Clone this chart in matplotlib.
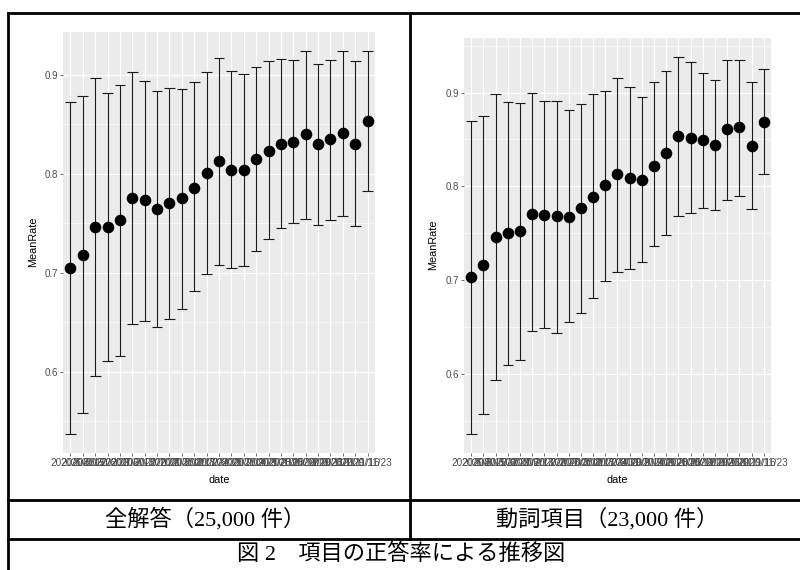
import matplotlib
matplotlib.use("Agg")
import matplotlib.pyplot as plt
from matplotlib.lines import Line2D
import numpy as np

# ---------------- data ----------------
dates = [
    "2020/6/8", "2020/6/15", "2020/6/22", "2020/6/29", "2020/7/6",
    "2020/7/13", "2020/7/20", "2020/7/27", "2020/8/3", "2020/8/10",
    "2020/8/17", "2020/8/24", "2020/8/31", "2020/9/7", "2020/9/14",
    "2020/9/21", "2020/9/28", "2020/10/5", "2020/10/12", "2020/10/19",
    "2020/10/26", "2020/11/2", "2020/11/9", "2020/11/16", "2020/11/23",
]

all_mean = [0.705, 0.718, 0.746, 0.746, 0.753, 0.775, 0.773, 0.764, 0.770, 0.775,
            0.786, 0.801, 0.813, 0.804, 0.804, 0.815, 0.823, 0.830, 0.832, 0.840,
            0.830, 0.835, 0.841, 0.830, 0.853]
all_upper = [0.873, 0.879, 0.897, 0.882, 0.890, 0.903, 0.894, 0.884, 0.887, 0.886,
             0.893, 0.903, 0.917, 0.904, 0.901, 0.908, 0.914, 0.916, 0.915, 0.924,
             0.911, 0.915, 0.924, 0.914, 0.924]
all_lower = [0.537, 0.558, 0.596, 0.611, 0.616, 0.648, 0.651, 0.645, 0.653, 0.663,
             0.681, 0.699, 0.708, 0.705, 0.707, 0.722, 0.734, 0.745, 0.750, 0.754,
             0.748, 0.753, 0.757, 0.747, 0.783]

verb_mean = [0.703, 0.716, 0.746, 0.750, 0.752, 0.771, 0.770, 0.768, 0.767, 0.777,
             0.789, 0.801, 0.813, 0.809, 0.807, 0.822, 0.836, 0.854, 0.852, 0.849,
             0.844, 0.861, 0.863, 0.843, 0.869]
verb_upper = [0.870, 0.875, 0.898, 0.890, 0.889, 0.899, 0.891, 0.891, 0.881, 0.888,
              0.898, 0.902, 0.915, 0.906, 0.895, 0.911, 0.923, 0.938, 0.932, 0.921,
              0.913, 0.935, 0.935, 0.911, 0.925]
verb_lower = [0.536, 0.557, 0.594, 0.610, 0.615, 0.646, 0.649, 0.644, 0.655, 0.665,
              0.681, 0.699, 0.709, 0.712, 0.719, 0.736, 0.748, 0.768, 0.772, 0.777,
              0.775, 0.786, 0.790, 0.776, 0.813]

y_breaks = [0.6, 0.7, 0.8, 0.9]
caption_left = "全解答（25,000 件）"
caption_right = "動詞項目（23,000 件）"
title = "図 2　項目の正答率による推移図"

# ---------------- style ----------------
W, H, DPI = 800, 570, 100
PANEL_BG = "#EBEBEB"
GRID = "#FFFFFF"
TICK_TXT = "#4D4D4D"
TICK_LINE = "#333333"
SANS = "Liberation Sans"
JP = ["Liberation Serif", "Noto Sans CJK JP"]


def fx(px):
    return px / W


def fy(py):
    return 1 - py / H


def draw_panel(ax, mean, lower, upper):
    x = np.arange(len(dates))
    lo, hi = min(lower), max(upper)
    pad = (hi - lo) * 0.05
    ax.set_ylim(lo - pad, hi + pad)
    ax.set_xlim(-0.6, len(dates) - 0.4)
    ax.set_facecolor(PANEL_BG)
    for s in ax.spines.values():
        s.set_visible(False)

    # ggplot-like grid: minor halfway between major breaks
    minors = [b - 0.05 for b in y_breaks] + [y_breaks[-1] + 0.05]
    for m in minors:
        ax.axhline(m, color=GRID, lw=0.45, zorder=0)
    for b in y_breaks:
        ax.axhline(b, color=GRID, lw=0.9, zorder=0)
    for xi in x:
        ax.axvline(xi, color=GRID, lw=0.9, zorder=0)

    ax.vlines(x, lower, upper, color="#1a1a1a", lw=0.8, zorder=2)
    ax.hlines(upper, x - 0.43, x + 0.43, color="#1a1a1a", lw=0.8, zorder=2)
    ax.hlines(lower, x - 0.43, x + 0.43, color="#1a1a1a", lw=0.8, zorder=2)
    ax.scatter(x, mean, s=70, color="black", zorder=3, linewidths=0)

    ax.set_yticks(y_breaks)
    ax.set_yticklabels([f"{b:.1f}" for b in y_breaks], fontfamily=SANS,
                       fontsize=7, color=TICK_TXT)
    ax.set_xticks(x)
    ax.set_xticklabels(dates, fontfamily=SANS, fontsize=7.2, color=TICK_TXT)
    ax.tick_params(length=2.2, width=0.5, color=TICK_LINE, pad=1.5)


fig = plt.figure(figsize=(W / DPI, H / DPI), dpi=DPI)
fig.patch.set_facecolor("white")

ax1 = fig.add_axes([fx(63), fy(453), fx(375 - 63), (453 - 32) / H])
draw_panel(ax1, all_mean, all_lower, all_upper)
ax2 = fig.add_axes([fx(464), fy(453), fx(771 - 464), (453 - 38) / H])
draw_panel(ax2, verb_mean, verb_lower, verb_upper)

# axis titles
fig.text(fx(33), fy(242), "MeanRate", rotation=90, ha="center", va="center",
         fontfamily=SANS, fontsize=7.8)
fig.text(fx(433), fy(245), "MeanRate", rotation=90, ha="center", va="center",
         fontfamily=SANS, fontsize=7.8)
fig.text(fx(219), fy(480), "date", ha="center", va="center",
         fontfamily=SANS, fontsize=7.8)
fig.text(fx(617), fy(480), "date", ha="center", va="center",
         fontfamily=SANS, fontsize=7.8)

# table borders
lw = 2.0
lines = [
    ((7.5, 7.5), (13, 570)),
    ((7.5, 800), (13, 13)),
    ((409.5, 409.5), (13, 539)),
    ((7.5, 800), (500, 500)),
    ((7.5, 800), (539, 539)),
]
for xs, ys in lines:
    fig.add_artist(Line2D([fx(v) for v in xs], [fy(v) for v in ys],
                          color="black", lw=lw, transform=fig.transFigure))

# captions
fig.text(fx(205), fy(519), caption_left, ha="center", va="center",
         family=JP, fontsize=16)
fig.text(fx(607), fy(519), caption_right, ha="center", va="center",
         family=JP, fontsize=16)
fig.text(fx(401), fy(554), title, ha="center", va="center",
         family=JP, fontsize=16)

fig.savefig("out.png", dpi=DPI, facecolor="white")
